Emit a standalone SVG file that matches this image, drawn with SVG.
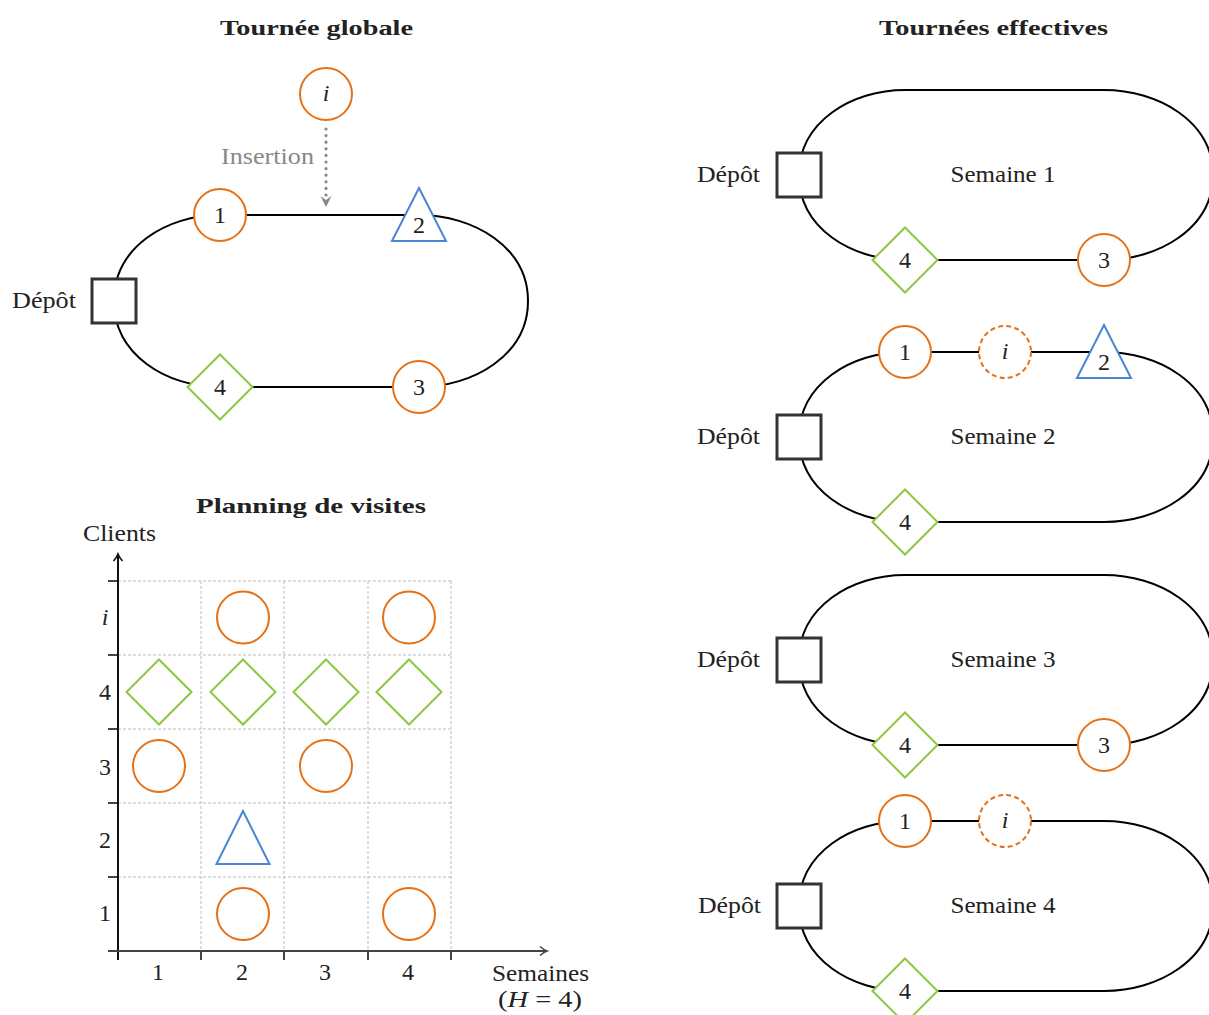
<svg xmlns="http://www.w3.org/2000/svg" width="1209" height="1015" viewBox="0 0 1209 1015">
<style>
.ln{fill:none;stroke:#000;stroke-width:2}
.oc{fill:#fff;stroke:#E67014;stroke-width:2}
.od{fill:#fff;stroke:#E67014;stroke-width:2;stroke-dasharray:5 3.2}
.gd{fill:#fff;stroke:#8DC63F;stroke-width:2}
.bt{fill:#fff;stroke:#4A86D4;stroke-width:2}
.dep{fill:#fff;stroke:#333;stroke-width:3}
.t{font-family:"Liberation Serif","Times New Roman",serif;font-size:23px;fill:#222}
.n{font-size:24px}
.c{text-anchor:middle}
.e{text-anchor:end}
.it{font-style:italic}
.b{font-weight:bold;font-size:21px}
.gr{stroke:#bbb;stroke-width:1;stroke-dasharray:3 2;fill:none}
.ax{stroke:#444;stroke-width:2;fill:none}
</style>
<defs>
<marker id="arr" markerUnits="userSpaceOnUse" markerWidth="12" markerHeight="12" viewBox="-8 -6 10 12" refX="0" refY="0" orient="auto">
<path d="M-7,-4.5 Q-3,-1 0,0 Q-3,1 -7,4.5" fill="none" stroke-width="1.6" stroke="context-stroke"/>
</marker>
<marker id="darr" markerUnits="userSpaceOnUse" markerWidth="14" markerHeight="14" viewBox="-12 -7 14 14" refX="0" refY="0" orient="auto">
<path d="M0,0 L-11,-5.5 L-7,0 L-11,5.5 Z" fill="#888"/>
</marker>
</defs>
<rect width="1209" height="1015" fill="#fff"/>

<!-- titles -->
<text class="t b c" x="316.5" y="34.5" textLength="193" lengthAdjust="spacingAndGlyphs">Tournée globale</text>
<text class="t b c" x="993.5" y="34.5" textLength="229" lengthAdjust="spacingAndGlyphs">Tournées effectives</text>
<text class="t b c" x="311" y="513" textLength="230" lengthAdjust="spacingAndGlyphs">Planning de visites</text>

<!-- connectors -->
<g id="connectors">
<path class="ln" d="M114,301 C114,247 166.6,215 220,215"/>
<path class="ln" d="M220,215 L419,215"/>
<path class="ln" d="M419,215 C473.4,215 528,247 528,301 C528,355 473.4,387 419,387"/>
<path class="ln" d="M419,387 L220,387"/>
<path class="ln" d="M220,387 C166.6,387 114,355 114,301"/>
<path d="M326,129 L326,196" fill="none" stroke="#888" stroke-width="3.2" stroke-linecap="round" stroke-dasharray="0 6.6"/>
<path d="M326,196 L326,207" fill="none" stroke="none" marker-end="url(#darr)"/>

<path class="ln" d="M799,175 C799,121.6 851.6,90 905,90"/>
<path class="ln" d="M905,90 L1104,90"/>
<path class="ln" d="M1104,90 C1158.4,90 1213,121.6 1213,175 C1213,228.4 1158.4,260 1104,260"/>
<path class="ln" d="M1104,260 L905,260"/>
<path class="ln" d="M905,260 C851.6,260 799,228.4 799,175"/>

<path class="ln" d="M799,437 C799,383.6 851.6,352 905,352"/>
<path class="ln" d="M905,352 L1104,352"/>
<path class="ln" d="M1104,352 C1158.4,352 1213,383.6 1213,437 C1213,490.4 1158.4,522 1104,522"/>
<path class="ln" d="M1104,522 L905,522"/>
<path class="ln" d="M905,522 C851.6,522 799,490.4 799,437"/>

<path class="ln" d="M799,660 C799,606.6 851.6,575 905,575"/>
<path class="ln" d="M905,575 L1104,575"/>
<path class="ln" d="M1104,575 C1158.4,575 1213,606.6 1213,660 C1213,713.4 1158.4,745 1104,745"/>
<path class="ln" d="M1104,745 L905,745"/>
<path class="ln" d="M905,745 C851.6,745 799,713.4 799,660"/>

<path class="ln" d="M799,906 C799,852.6 851.6,821 905,821"/>
<path class="ln" d="M905,821 L1104,821"/>
<path class="ln" d="M1104,821 C1158.4,821 1213,852.6 1213,906 C1213,959.4 1158.4,991 1104,991"/>
<path class="ln" d="M1104,991 L905,991"/>
<path class="ln" d="M905,991 C851.6,991 799,959.4 799,906"/>
</g>

<!-- global tour nodes -->
<g id="g-depot"><rect class="dep" x="92" y="279" width="44" height="44"/><text class="t e" x="76" y="308" textLength="64" lengthAdjust="spacingAndGlyphs">Dépôt</text></g>
<g id="g-n1"><circle class="oc" cx="220" cy="215" r="26"/><text class="t n c" x="220" y="223">1</text></g>
<g id="g-n2"><polygon class="bt" points="419,188 392,241 446,241"/><text class="t n c" x="419" y="233">2</text></g>
<g id="g-n3"><circle class="oc" cx="419" cy="387" r="26"/><text class="t n c" x="419" y="395">3</text></g>
<g id="g-n4"><polygon class="gd" points="220,354.5 252.5,387 220,419.5 187.5,387"/><text class="t n c" x="220" y="395">4</text></g>
<g id="g-ni"><circle class="oc" cx="326" cy="94" r="26"/><text class="t n c it" x="326" y="101">i</text></g>
<g id="g-insertion"><text class="t e" x="314" y="164" style="fill:#888" textLength="93" lengthAdjust="spacingAndGlyphs">Insertion</text></g>

<!-- planning grid -->
<g id="grid">
<path class="gr" d="M118,581 H451 M118,655 H451 M118,729 H451 M118,803 H451 M118,877 H451 M201,581 V951 M284,581 V951 M368,581 V951 M451,581 V951"/>
<path class="ax" d="M108,581 H118 M108,655 H118 M108,729 H118 M108,803 H118 M108,877 H118 M118,951 V960 M201,951 V960 M284,951 V960 M368,951 V960 M451,951 V960"/>
<path d="M118,960 L118,554" fill="none" stroke="#111" stroke-width="2" marker-end="url(#arr)"/>
<path d="M108,951 L547,951" class="ax" marker-end="url(#arr)"/>
<text class="t" x="83" y="541" textLength="73" lengthAdjust="spacingAndGlyphs">Clients</text>
<text class="t c" x="540.5" y="981" textLength="97" lengthAdjust="spacingAndGlyphs">Semaines</text>
<text class="t c" x="540" y="1007" textLength="84" lengthAdjust="spacingAndGlyphs">(<tspan class="it">H</tspan> = 4)</text>
<text class="t n c it" x="105" y="625">i</text>
<text class="t n c" x="105" y="700">4</text>
<text class="t n c" x="105" y="775">3</text>
<text class="t n c" x="105" y="848">2</text>
<text class="t n c" x="105" y="921">1</text>
<text class="t n c" x="158" y="980">1</text>
<text class="t n c" x="242" y="980">2</text>
<text class="t n c" x="325" y="980">3</text>
<text class="t n c" x="408" y="980">4</text>
</g>
<g id="p-i-2"><circle class="oc" cx="243" cy="617.5" r="26"/></g>
<g id="p-i-4"><circle class="oc" cx="409" cy="617.5" r="26"/></g>
<g id="p-4-1"><polygon class="gd" points="159,659.5 191.5,692 159,724.5 126.5,692"/></g>
<g id="p-4-2"><polygon class="gd" points="243,659.5 275.5,692 243,724.5 210.5,692"/></g>
<g id="p-4-3"><polygon class="gd" points="326,659.5 358.5,692 326,724.5 293.5,692"/></g>
<g id="p-4-4"><polygon class="gd" points="409,659.5 441.5,692 409,724.5 376.5,692"/></g>
<g id="p-3-1"><circle class="oc" cx="159" cy="766" r="26"/></g>
<g id="p-3-3"><circle class="oc" cx="326" cy="766" r="26"/></g>
<g id="p-2-2"><polygon class="bt" points="243,811 216.5,864 269.5,864"/></g>
<g id="p-1-2"><circle class="oc" cx="243" cy="914" r="26"/></g>
<g id="p-1-4"><circle class="oc" cx="409" cy="914" r="26"/></g>

<!-- Semaine 1 -->
<g id="s1-depot"><rect class="dep" x="777" y="153" width="44" height="44"/><text class="t e" x="760" y="182" textLength="63" lengthAdjust="spacingAndGlyphs">Dépôt</text></g>
<g id="s1-label"><text class="t c" x="1003" y="182" textLength="105" lengthAdjust="spacingAndGlyphs">Semaine 1</text></g>
<g id="s1-n4"><polygon class="gd" points="905,227.5 937.5,260 905,292.5 872.5,260"/><text class="t n c" x="905" y="268">4</text></g>
<g id="s1-n3"><circle class="oc" cx="1104" cy="260" r="26"/><text class="t n c" x="1104" y="268">3</text></g>

<!-- Semaine 2 -->
<g id="s2-depot"><rect class="dep" x="777" y="415" width="44" height="44"/><text class="t e" x="760" y="444" textLength="63" lengthAdjust="spacingAndGlyphs">Dépôt</text></g>
<g id="s2-label"><text class="t c" x="1003" y="444" textLength="105" lengthAdjust="spacingAndGlyphs">Semaine 2</text></g>
<g id="s2-n1"><circle class="oc" cx="905" cy="352" r="26"/><text class="t n c" x="905" y="360">1</text></g>
<g id="s2-ni"><circle class="od" cx="1005" cy="352" r="26"/><text class="t n c it" x="1005" y="359">i</text></g>
<g id="s2-n2"><polygon class="bt" points="1104,325 1077,378 1131,378"/><text class="t n c" x="1104" y="370">2</text></g>
<g id="s2-n4"><polygon class="gd" points="905,489.5 937.5,522 905,554.5 872.5,522"/><text class="t n c" x="905" y="530">4</text></g>

<!-- Semaine 3 -->
<g id="s3-depot"><rect class="dep" x="777" y="638" width="44" height="44"/><text class="t e" x="760" y="667" textLength="63" lengthAdjust="spacingAndGlyphs">Dépôt</text></g>
<g id="s3-label"><text class="t c" x="1003" y="667" textLength="105" lengthAdjust="spacingAndGlyphs">Semaine 3</text></g>
<g id="s3-n4"><polygon class="gd" points="905,712.5 937.5,745 905,777.5 872.5,745"/><text class="t n c" x="905" y="753">4</text></g>
<g id="s3-n3"><circle class="oc" cx="1104" cy="745" r="26"/><text class="t n c" x="1104" y="753">3</text></g>

<!-- Semaine 4 -->
<g id="s4-depot"><rect class="dep" x="777" y="884" width="44" height="44"/><text class="t e" x="761" y="913" textLength="63" lengthAdjust="spacingAndGlyphs">Dépôt</text></g>
<g id="s4-label"><text class="t c" x="1003" y="913" textLength="105" lengthAdjust="spacingAndGlyphs">Semaine 4</text></g>
<g id="s4-n1"><circle class="oc" cx="905" cy="821" r="26"/><text class="t n c" x="905" y="829">1</text></g>
<g id="s4-ni"><circle class="od" cx="1005" cy="821" r="26"/><text class="t n c it" x="1005" y="828">i</text></g>
<g id="s4-n4"><polygon class="gd" points="905,958.5 937.5,991 905,1023.5 872.5,991"/><text class="t n c" x="905" y="999">4</text></g>
</svg>
